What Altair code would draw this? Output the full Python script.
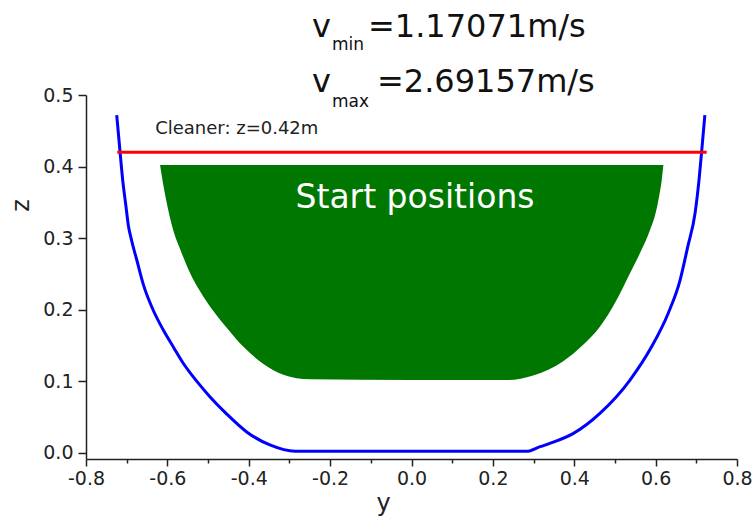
import altair as alt
import pandas as pd

# ---- data ----
wall_y = [-0.7245, -0.7175, -0.7098, -0.7017, -0.696, -0.688, -0.675, -0.659, -0.635, -0.610,
          -0.585, -0.561, -0.528, -0.495, -0.454, -0.405, -0.348, -0.286,
          0.283, 0.316, 0.340, 0.398, 0.463, 0.537, 0.590, 0.631, 0.660, 0.679, 0.697, 0.7066, 0.713, 0.721]
wall_z = [0.472, 0.428, 0.381, 0.344, 0.318, 0.297, 0.269, 0.235, 0.1995, 0.1715,
          0.1475, 0.125, 0.100, 0.078, 0.054, 0.029, 0.0108, 0.002,
          0.002, 0.0084, 0.013, 0.027, 0.055, 0.1016, 0.148, 0.195, 0.241, 0.288, 0.335, 0.381, 0.42, 0.472]

start_y = [-0.618, -0.612, -0.600, -0.585, -0.569, -0.544, -0.520, -0.487, -0.450, -0.413, -0.364, -0.315,
           -0.25, 0.0, 0.234, 0.299, 0.373, 0.422, 0.463, 0.504, 0.537, 0.5616, 0.586, 0.600, 0.609, 0.615, 0.619]
start_zlow = [0.402, 0.381, 0.345, 0.310, 0.285, 0.251, 0.226, 0.198, 0.172, 0.148, 0.124, 0.109,
              0.1026, 0.1016, 0.1016, 0.108, 0.128, 0.151, 0.176, 0.2134, 0.251, 0.279, 0.311, 0.335, 0.360, 0.381, 0.402]
start_ztop = 0.402

cleaner_z = 0.42
cleaner_y = [-0.723, 0.7255]

x_ticks = [-0.8, -0.7, -0.6, -0.5, -0.4, -0.3, -0.2, -0.1, 0.0, 0.1, 0.2, 0.3, 0.4, 0.5, 0.6, 0.7, 0.8]
z_ticks = [0.0, 0.05, 0.1, 0.15, 0.2, 0.25, 0.3, 0.35, 0.4, 0.45, 0.5]

FONT = "DejaVu Sans"

wall = pd.DataFrame({"y": wall_y, "z": wall_z, "o": list(range(len(wall_y)))})
start = pd.DataFrame({"y": start_y, "zlow": start_zlow, "ztop": [start_ztop] * len(start_y)})
cleaner = pd.DataFrame({"y": [cleaner_y[0]], "y2": [cleaner_y[1]], "z": [cleaner_z]})

xscale = alt.Scale(domain=[-0.8, 0.8], nice=False, zero=False)
yscale = alt.Scale(domain=[-0.0088, 0.5], nice=False, zero=False)

xaxis = alt.Axis(
    values=x_ticks,
    labelExpr="abs(round(datum.value*5) - datum.value*5) < 0.001 ? ((datum.value < -0.001 ? '-' : '') + format(abs(datum.value), '.1f')) : ''",
    tickSize={"condition": {"test": "abs(round(datum.value*5) - datum.value*5) > 0.001", "value": 4}, "value": 7},
    grid=False, domainColor="#222", tickColor="#222", labelColor="#222",
    labelFont=FONT, labelFontSize=19, labelPadding=3, tickWidth=1.5, domainWidth=1.5,
    labelFlush=False, labelOverlap=False,
    title="y", titleFont=FONT, titleFontSize=24, titleFontWeight="normal", titleColor="#222",
    titleX=297, titleY=51, titleBaseline="alphabetic", titleAnchor="start", titleAlign="center",
)
yaxis = alt.Axis(
    values=z_ticks,
    labelExpr="abs(round(datum.value*10) - datum.value*10) < 0.001 ? format(datum.value, '.1f') : ''",
    tickSize={"condition": {"test": "abs(round(datum.value*10) - datum.value*10) > 0.001", "value": 4}, "value": 8},
    grid=False, domainColor="#222", tickColor="#222", labelColor="#222",
    labelFont=FONT, labelFontSize=19, labelPadding=5, tickWidth=1.5, domainWidth=1.5,
    labelFlush=False, labelOverlap=False,
    title="z", titleFont=FONT, titleFontSize=24, titleFontWeight="normal", titleColor="#222",
    titleX=-58, titleY=110, titleAngle=270, titleBaseline="alphabetic", titleAlign="center",
)

area = alt.Chart(start).mark_area(color="#007700", opacity=1, interpolate="monotone").encode(
    x=alt.X("y:Q", scale=xscale, axis=xaxis),
    y=alt.Y("zlow:Q", scale=yscale, axis=yaxis),
    y2="ztop:Q",
)

line = alt.Chart(wall).mark_line(color="#0000FF", strokeWidth=3, interpolate="monotone").encode(
    x=alt.X("y:Q", scale=xscale),
    y=alt.Y("z:Q", scale=yscale),
    order="o:Q",
)

rule = alt.Chart(cleaner).mark_rule(color="#FF0000", strokeWidth=3).encode(
    x=alt.X("y:Q", scale=xscale),
    x2="y2:Q",
    y=alt.Y("z:Q", scale=yscale),
)

labels = pd.DataFrame({
    "y": [-0.630, 0.0086],
    "z": [0.445, 0.342],
    "t": ["Cleaner: z=0.42m", "Start positions"],
})
cleaner_text = alt.Chart(labels.iloc[[0]]).mark_text(
    font=FONT, fontSize=18, color="#222", align="left", baseline="alphabetic"
).encode(x=alt.X("y:Q", scale=xscale), y=alt.Y("z:Q", scale=yscale), text="t:N")
start_text = alt.Chart(labels.iloc[[1]]).mark_text(
    font=FONT, fontSize=33, color="#FFFFFF", align="center", baseline="alphabetic"
).encode(x=alt.X("y:Q", scale=xscale), y=alt.Y("z:Q", scale=yscale), text="t:N")

# title: v_min / v_max with subscripts
vmin = "=1.17071m/s"
vmax = "=2.69157m/s"
title_rows = pd.DataFrame({
    "t": ["v", vmin, "v", vmax],
    "px": [226, 282, 226, 291],
    "py": [-58, -58, -3, -3],
})
sub_rows = pd.DataFrame({
    "t": ["min", "max"],
    "px": [246, 246],
    "py": [-45, 12],
})
big = alt.Chart(title_rows).mark_text(
    font=FONT, fontSize=32, color="#111", align="left", baseline="alphabetic"
).encode(x=alt.X("px:Q", scale=None), y=alt.Y("py:Q", scale=None), text="t:N")
small = alt.Chart(sub_rows).mark_text(
    font=FONT, fontSize=17, color="#111", align="left", baseline="alphabetic"
).encode(x=alt.X("px:Q", scale=None), y=alt.Y("py:Q", scale=None), text="t:N")

chart = alt.layer(area, line, rule, cleaner_text, start_text, big, small).properties(
    width=651, height=364,
    padding={"left": 86, "top": 95, "right": 15, "bottom": 62},
    autosize="none",
    background="white",
).configure_view(stroke=None)

chart.save("out.html", embed_options={"renderer": "svg", "actions": False})
